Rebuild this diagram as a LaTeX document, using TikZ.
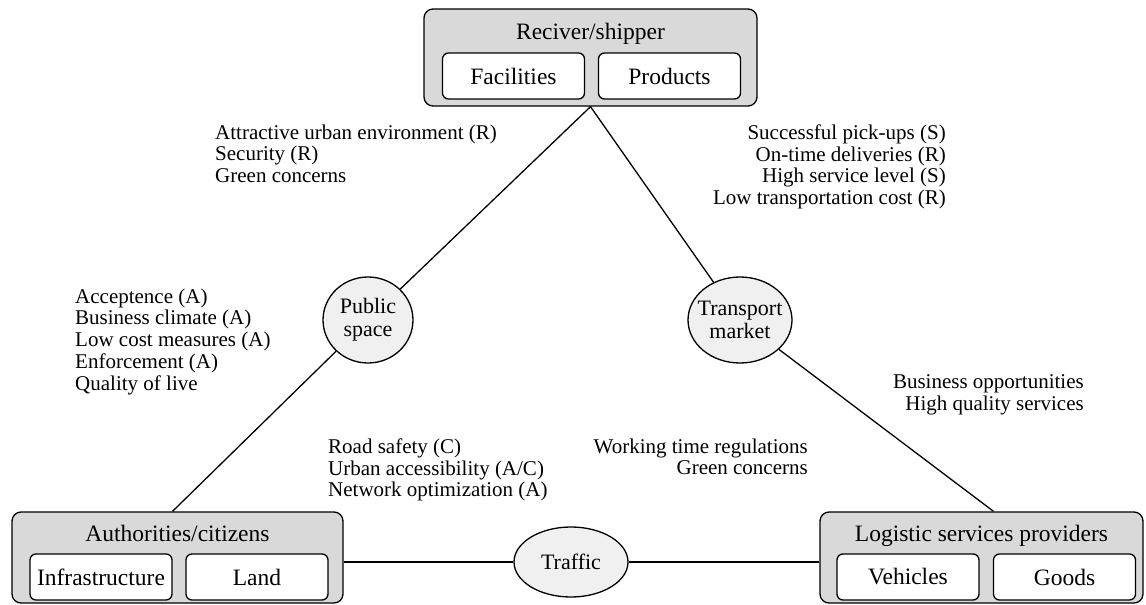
\documentclass[tikz,border=0pt]{standalone}
\usepackage{fontspec}
\setmainfont{Liberation Serif}
\usetikzlibrary{shapes.geometric, positioning, backgrounds}

\begin{document}
\begin{tikzpicture}[x=1pt, y=-1pt,
        every node/.style={font=\fontsize{21}{21.7}\selectfont},
        group/.style={draw, line width=1.3pt, rounded corners=9pt, fill=gray!30, inner sep=0pt},
        title/.style={anchor=base, font=\fontsize{23.5}{25}\selectfont},
        part/.style={draw, line width=1.3pt, rounded corners=6pt, fill=white, minimum width=142pt, minimum height=46pt, inner sep=0pt, font=\fontsize{23.5}{25}\selectfont},
        hub/.style={draw, ellipse, line width=1.3pt, fill=gray!12, align=center, inner sep=0pt, font=\fontsize{22}{23}\selectfont},
        link/.style={line width=1.3pt},
        note/.style={inner sep=0pt}
    ]
        \useasboundingbox (0,0) rectangle (1146,605);

        % Receiver / shipper
        \node[group, minimum width=333pt, minimum height=97pt] (shipper) at (590.5,57.5) {};
        \node[title] (shippertitle) at (590.5,39) {Reciver/shipper};
        \node[part] (facilities) at (513.5,76) {Facilities};
        \node[part] (products) at (669.5,76) {Products};

        % Authorities / citizens
        \node[group, minimum width=331pt, minimum height=91pt] (authorities) at (177.5,557.5) {};
        \node[title] (authoritiestitle) at (177.5,541) {Authorities/citizens};
        \node[part] (infrastructure) at (101,577) {Infrastructure};
        \node[part] (land) at (257,577) {Land};

        % Logistic services providers
        \node[group, minimum width=323pt, minimum height=91pt] (providers) at (981.5,557.5) {};
        \node[title] (providerstitle) at (981.5,541) {Logistic services providers};
        \node[part] (vehicles) at (908,577) {Vehicles};
        \node[part] (goods) at (1064.5,577) {Goods};

        % Interfaces
        \node[hub, minimum width=90pt, minimum height=86pt] (public) at (368,320) {Public\\space};
        \node[hub, minimum width=104pt, minimum height=86pt, inner xsep=-7pt] (transport) at (740,320) {Transport\\market};
        \node[hub, minimum width=114pt, minimum height=70pt] (traffic) at (571,562) {Traffic};

        % Links
        \draw[link] (shipper.south) -- (public);
        \draw[link] (public) -- ([xshift=-5pt]authorities.north);
        \draw[link] (shipper.south) -- (transport);
        \draw[link] (transport) -- ([xshift=12pt]providers.north);
        \draw[link] (traffic) -- (traffic -| authorities.east);
        \draw[link] (traffic) -- (traffic -| providers.west);

        % Requirements
        \node[note, anchor=north west, align=left] (shipperneeds) at (215,124.5)
            {Attractive urban environment (R)\\Security (R)\\Green concerns};
        \node[note, anchor=north east, align=right] (marketneeds) at (946,124.5)
            {Successful pick-ups (S)\\On-time deliveries (R)\\High service level (S)\\Low transportation cost (R)};
        \node[note, anchor=north west, align=left] (authorityneeds) at (75,288.5)
            {Acceptence (A)\\Business climate (A)\\Low cost measures (A)\\Enforcement (A)\\Quality of live};
        \node[note, anchor=north east, align=right] (providerneeds) at (1084,374.5)
            {Business opportunities\\High quality services};
        \node[note, anchor=north west, align=left] (trafficneeds) at (328,438.5)
            {Road safety (C)\\Urban accessibility (A/C)\\Network optimization (A)};
        \node[note, anchor=north east, align=right] (driverneeds) at (808,438.5)
            {Working time regulations\\Green concerns};

    \end{tikzpicture}
\end{document}
